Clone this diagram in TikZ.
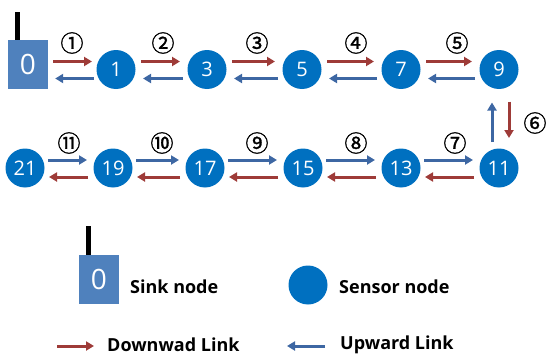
\documentclass[tikz,border=0pt]{standalone}
\usepackage{fontspec}
\setmainfont{Open Sans}
\newfontfamily\cjk{Noto Sans CJK SC}[FakeBold=1.2]
\usetikzlibrary{arrows.meta,calc}
\definecolor{sinkblue}{HTML}{4F81BD}
\definecolor{nodeblue}{HTML}{0070C0}
\definecolor{downred}{HTML}{9E3B38}
\definecolor{upblue}{HTML}{3D67A3}
\begin{document}
\begin{tikzpicture}[x=1pt,y=-1pt,
  sensor/.style={circle,fill=nodeblue,minimum size=39pt,inner sep=0pt,text=white,font=\fontsize{20}{20}\selectfont},
  sink/.style={rectangle,fill=sinkblue,minimum width=40pt,minimum height=49pt,inner sep=0pt,text=white,font=\fontsize{28}{28}\selectfont},
  antenna/.style={draw=black,line width=5pt},
  down/.style={draw=downred,line width=3pt,-{Triangle[length=8pt,width=9pt]}},
  up/.style={draw=upblue,line width=3pt,-{Triangle[length=8pt,width=9pt]}},
  circnum/.style={font=\cjk\fontsize{23}{23}\selectfont,inner sep=0pt},
  legend/.style={font=\bfseries\fontsize{18}{18}\selectfont,anchor=west,inner sep=0pt}
]
\useasboundingbox (0,0) rectangle (547,356);
% sink
\node[sink] (s0) at (28,64.5) {0};
\draw[antenna] ($(s0.north west)+(9.5,0)$) -- ++(0,-28);
% row 1
\node[sensor] (n1) at (116,69.5) {1};
\node[sensor] (n3) at (207,69.5) {3};
\node[sensor] (n5) at (302,69.5) {5};
\node[sensor] (n7) at (401,69.5) {7};
\node[sensor] (n9) at (499,69.5) {9};
% row 2
\node[sensor] (n21) at (25,168) {21};
\node[sensor] (n19) at (113,168) {19};
\node[sensor] (n17) at (205,168) {17};
\node[sensor] (n15) at (303,168) {15};
\node[sensor] (n13) at (401,168) {13};
\node[sensor] (n11) at (499,168) {11};
% row 1 links
\draw[down] ($(s0.east |- n1.center)+(5,-8)$) -- ($(n1.center)+(-24,-8)$);
\draw[up] ($(n1.center)+(-22,9)$) -- ($(s0.east |- n1.center)+(7,9)$);
\foreach \a/\b in {n1/n3,n3/n5,n5/n7,n7/n9}{
  \draw[down] ($(\a.center)+(25,-8)$) -- ($(\b.center)+(-27,-8)$);
  \draw[up] ($(\b.center)+(-24,9)$) -- ($(\a.center)+(27,9)$);
}
% vertical links
\draw[up] ($(n11.center)+(-7,-26)$) -- ($(n9.center)+(-7,33)$);
\draw[down] ($(n9.center)+(10,32)$) -- ($(n11.center)+(10,-30)$);
% row 2 links
\foreach \a/\b in {n21/n19,n19/n17,n17/n15,n15/n13,n13/n11}{
  \draw[up] ($(\a.center)+(23,-8)$) -- ($(\b.center)+(-26,-8)$);
  \draw[down] ($(\b.center)+(-25,9)$) -- ($(\a.center)+(24,9)$);
}
% step labels
\node[circnum] (l1) at (72,43) {①};
\node[circnum] (l2) at (163,43) {②};
\node[circnum] (l3) at (257,43) {③};
\node[circnum] (l4) at (356,43) {④};
\node[circnum] (l5) at (457,43) {⑤};
\node[circnum] (l6) at (535,123) {⑥};
\node[circnum] (l7) at (455,143) {⑦};
\node[circnum] (l8) at (356,143) {⑧};
\node[circnum] (l9) at (257,143) {⑨};
\node[circnum] (l10) at (162,143) {⑩};
\node[circnum] (l11) at (69,143) {⑪};
% legend
\node[sink] (ls) at (99,279.5) {0};
\draw[antenna] ($(ls.north west)+(10,0)$) -- ++(0,-29);
\node[legend] (lst) at (130,287) {Sink node};
\node[sensor] (lc) at (308,285) {};
\node[legend] (lct) at (339,287) {Sensor node};
\coordinate (ld1) at (57,346);
\coordinate (ld2) at (94,346);
\draw[down] (ld1) -- (ld2);
\node[legend] (ldt) at (107,345) {Downwad Link};
\coordinate (lu1) at (325,346);
\coordinate (lu2) at (287,346);
\draw[up] (lu1) -- (lu2);
\node[legend] (lut) at (340,345) {Upward Link};
\end{tikzpicture}
\end{document}
